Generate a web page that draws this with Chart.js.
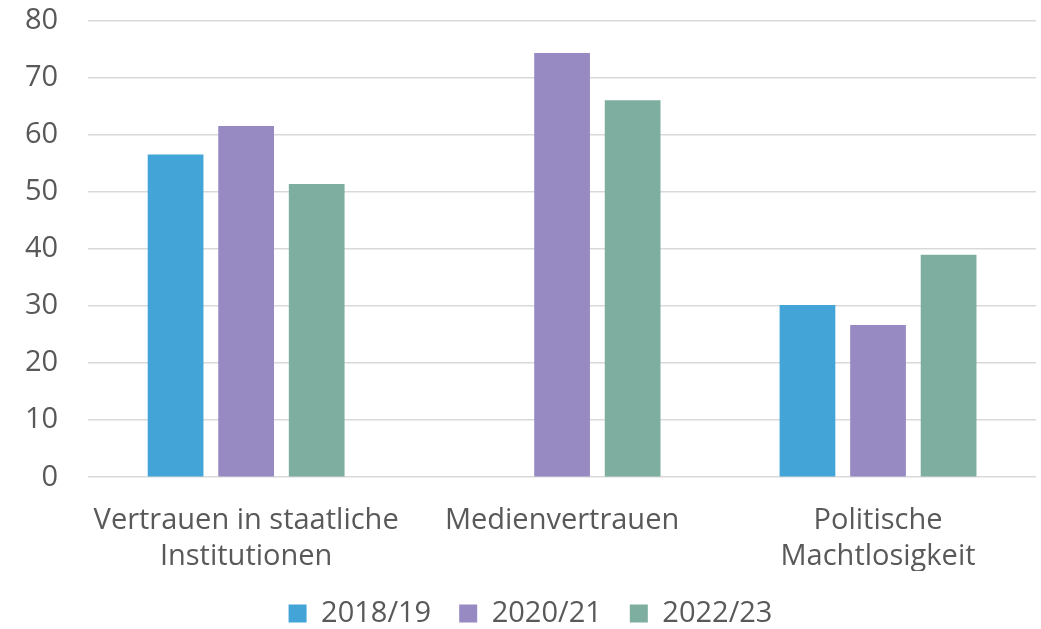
<!DOCTYPE html>
<html>
<head>
<meta charset="utf-8">
<script src="https://cdn.jsdelivr.net/npm/chart.js@4"></script>
<style>
  html, body { margin: 0; padding: 0; background: #fff; }
  #wrap { width: 1041px; height: 629px; }
</style>
</head>
<body>
<div id="wrap"><canvas id="chart"></canvas></div>
<script>
// data
const categories = [
    ['Vertrauen in staatliche', 'Institutionen'],
    ['Medienvertrauen'],
    ['Politische', 'Machtlosigkeit']
];
const seriesNames = ['2018/19', '2020/21', '2022/23'];
const values2018 = [56.6, null, 30.2];
const values2020 = [61.6, 74.4, 26.7];
const values2022 = [51.4, 66.1, 39.0];
const yTicks = [0, 10, 20, 30, 40, 50, 60, 70, 80];

const colors = ['#43a5d7', '#978ac3', '#7dae9f'];
const textColor = '#595959';
const fontFamily = "'Open Sans', 'Liberation Sans', sans-serif";

const ctx = document.getElementById('chart').getContext('2d');
const chart = new Chart(ctx, {
    type: 'bar',
    data: {
        labels: categories,
        datasets: [
            { label: seriesNames[0], data: values2018, backgroundColor: colors[0] },
            { label: seriesNames[1], data: values2020, backgroundColor: colors[1] },
            { label: seriesNames[2], data: values2022, backgroundColor: colors[2] }
        ]
    },
    options: {
        responsive: true,
        maintainAspectRatio: false,
        animation: false,
        categoryPercentage: 0.67,
        barPercentage: 0.79,
        layout: { padding: { left: 25, right: 5, top: 21, bottom: -9 } },
        scales: {
            x: {
                grid: { display: false },
                border: { display: false },
                ticks: {
                    color: textColor,
                    font: { family: fontFamily, size: 29, lineHeight: 1.22 },
                    padding: 18,
                    maxRotation: 0,
                    autoSkip: false
                },
                // labels fit inside their category, no extra side padding
                afterFit: (axis) => {
                    axis.paddingLeft = 0;
                    axis.paddingRight = 0;
                    axis.height -= 21;
                }
            },
            y: {
                min: 0,
                max: 80,
                afterBuildTicks: (axis) => { axis.ticks = yTicks.map(v => ({ value: v })); },
                grid: { color: '#d9d9d9', lineWidth: 1.5, drawTicks: false },
                border: { display: false },
                ticks: {
                    color: textColor,
                    font: { family: fontFamily, size: 29 },
                    padding: 30
                },
                afterFit: (axis) => {
                    axis.paddingTop = 0;
                    axis.paddingBottom = 0;
                    axis.width -= 30;
                }
            }
        },
        plugins: {
            legend: {
                position: 'bottom',
                labels: {
                    color: textColor,
                    font: { family: fontFamily, size: 29 },
                    boxWidth: 18,
                    boxHeight: 18,
                    padding: 28
                }
            },
            tooltip: { enabled: false }
        }
    }
});
</script>
</body>
</html>
